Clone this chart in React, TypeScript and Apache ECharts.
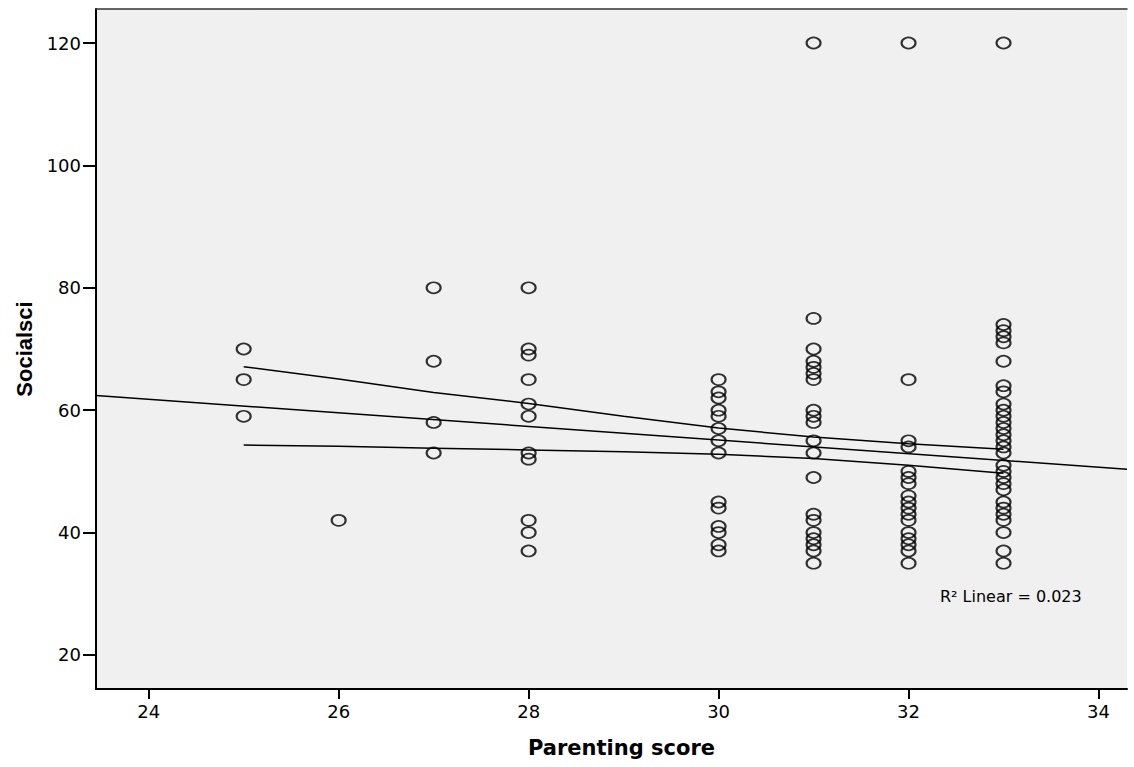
import React, { useEffect, useRef } from "react";
import * as echarts from "echarts";

// Scatter data: Socialsci values observed at each Parenting score
const parentingScores = [25, 26, 27, 28, 30, 31, 32, 33];
const socialsciAt25 = [70, 65, 59];
const socialsciAt26 = [42];
const socialsciAt27 = [80, 68, 58, 53];
const socialsciAt28 = [80, 70, 69, 65, 61, 59, 53, 52, 42, 40, 37];
const socialsciAt30 = [65, 63, 62, 60, 59, 57, 55, 53, 45, 44, 41, 40, 38, 37];
const socialsciAt31 = [120, 75, 70, 68, 67, 66, 65, 60, 59, 58, 55, 53, 49, 43, 42, 40, 39, 38, 37, 35];
const socialsciAt32 = [120, 65, 55, 54, 50, 49, 48, 46, 45, 44, 43, 42, 40, 39, 38, 37, 35];
const socialsciAt33 = [120, 74, 73, 72, 71, 68, 64, 63, 61, 60, 59, 58, 57, 56, 55, 54, 53, 51, 50, 49, 48, 47, 45, 44, 43, 42, 40, 37, 35];
const socialsciByScore = [
  socialsciAt25, socialsciAt26, socialsciAt27, socialsciAt28,
  socialsciAt30, socialsciAt31, socialsciAt32, socialsciAt33,
];

// Linear fit line (read at the axis ends)
const fitLineX = [23.445, 34.3];
const fitLineY = [62.4, 50.35];

// 95% confidence band of the mean
const ciX = [25, 26, 27, 28, 29, 30, 31, 32, 33];
const ciUpper = [67.1, 65.1, 62.9, 61.1, 59.0, 57.1, 55.6, 54.5, 53.6];
const ciLower = [54.3, 54.1, 53.8, 53.5, 53.2, 52.8, 52.1, 51.0, 49.7];

// Axes
const xRange = [23.445, 34.3];
const yRange = [14.44, 125.56];
const xTicks = [24, 26, 28, 30, 32, 34];
const yTicks = [20, 40, 60, 80, 100, 120];

const r2Label = "R\u00B2 Linear = 0.023";
const xTitle = "Parenting score";
const yTitle = "Socialsci";

export default function App() {
  const ref = useRef<HTMLDivElement>(null);

  useEffect(() => {
    if (!ref.current) return;
    const chart = echarts.init(ref.current, undefined, { renderer: "svg" });

    const scatterData: number[][] = [];
    parentingScores.forEach((x, i) => {
      socialsciByScore[i].forEach((y) => scatterData.push([x, y]));
    });
    const fitData = fitLineX.map((x, i) => [x, fitLineY[i]]);
    const upperData = ciX.map((x, i) => [x, ciUpper[i]]);
    const lowerData = ciX.map((x, i) => [x, ciLower[i]]);

    const tickFont = { fontFamily: "DejaVu Sans", fontSize: 18, color: "#000" };
    const lineStyle = { color: "#000", width: 1.5 };

    chart.setOption({
      animation: false,
      backgroundColor: "#ffffff",
      grid: {
        left: 96,
        right: 7,
        top: 9,
        bottom: 78,
        show: true,
        backgroundColor: "#f0f0f0",
        borderWidth: 0,
      },
      xAxis: [
        {
          type: "value",
          position: "bottom",
          min: xRange[0],
          max: xRange[1],
          name: xTitle,
          nameLocation: "middle",
          nameGap: 48,
          nameTextStyle: {
            fontFamily: "DejaVu Sans",
            fontWeight: "bold",
            fontSize: 21,
            color: "#000",
            padding: [0, 0, 0, 20],
          },
          axisLine: { show: true, onZero: false, lineStyle: { color: "#000", width: 2 } },
          axisTick: { show: true, length: 10, customValues: xTicks, lineStyle: { color: "#000", width: 2 } },
          axisLabel: { ...tickFont, margin: 13, customValues: xTicks },
          splitLine: { show: false },
        },
        {
          type: "value",
          position: "top",
          min: xRange[0],
          max: xRange[1],
          axisLine: { show: true, onZero: false, lineStyle: { color: "#333", width: 1.5 } },
          axisTick: { show: false },
          axisLabel: { show: false },
          splitLine: { show: false },
        },
      ],
      yAxis: {
        type: "value",
        min: yRange[0],
        max: yRange[1],
        name: yTitle,
        nameLocation: "middle",
        nameRotate: 90,
        nameGap: 59,
        nameTextStyle: {
          fontFamily: "Liberation Sans",
          fontWeight: "bold",
          fontSize: 22,
          color: "#000",
        },
        axisLine: { show: true, onZero: false, lineStyle: { color: "#000", width: 2 } },
        axisTick: { show: true, length: 13, customValues: yTicks, lineStyle: { color: "#000", width: 2 } },
        axisLabel: { ...tickFont, margin: 15, customValues: yTicks },
        splitLine: { show: false },
      },
      graphic: [
        {
          type: "text",
          left: 940,
          top: 588,
          style: {
            text: r2Label,
            font: '16px "DejaVu Sans"',
            fill: "#000",
          },
        },
      ],
      series: [
        {
          type: "scatter",
          data: scatterData,
          symbol: "circle",
          symbolSize: [14, 11],
          itemStyle: { color: "rgba(0,0,0,0)", borderColor: "#000", borderWidth: 1.9 },
          z: 2,
        },
        {
          type: "line",
          data: fitData,
          showSymbol: false,
          symbol: "none",
          lineStyle,
          z: 3,
        },
        {
          type: "line",
          data: upperData,
          showSymbol: false,
          symbol: "none",
          lineStyle,
          z: 3,
        },
        {
          type: "line",
          data: lowerData,
          showSymbol: false,
          symbol: "none",
          lineStyle,
          z: 3,
        },
      ],
    });

    return () => chart.dispose();
  }, []);

  return (
    <div
      ref={ref}
      style={{ position: "fixed", left: 0, top: 0, width: 1134, height: 767 }}
    />
  );
}
